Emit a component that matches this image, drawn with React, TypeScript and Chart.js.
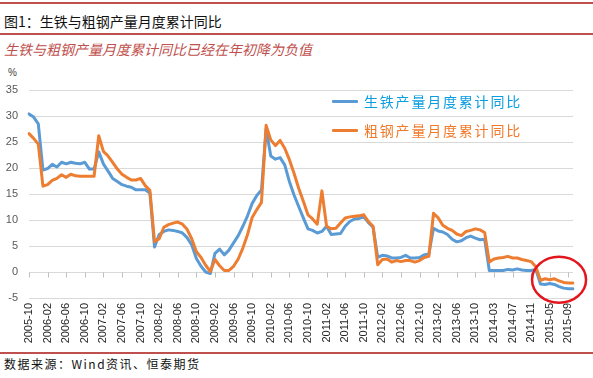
import React, { useEffect, useRef } from 'react';
import { Chart, registerables } from 'chart.js';

Chart.register(...registerables);

// ---- categories (monthly, Jan 2014 and Jan–Feb 2015 absent) ----
const cat2005 = ['2005-10', '2005-11', '2005-12'];
const cat2006 = ['2006-01', '2006-02', '2006-03', '2006-04', '2006-05', '2006-06', '2006-07', '2006-08', '2006-09', '2006-10', '2006-11', '2006-12'];
const cat2007 = ['2007-01', '2007-02', '2007-03', '2007-04', '2007-05', '2007-06', '2007-07', '2007-08', '2007-09', '2007-10', '2007-11', '2007-12'];
const cat2008 = ['2008-01', '2008-02', '2008-03', '2008-04', '2008-05', '2008-06', '2008-07', '2008-08', '2008-09', '2008-10', '2008-11', '2008-12'];
const cat2009 = ['2009-01', '2009-02', '2009-03', '2009-04', '2009-05', '2009-06', '2009-07', '2009-08', '2009-09', '2009-10', '2009-11', '2009-12'];
const cat2010 = ['2010-01', '2010-02', '2010-03', '2010-04', '2010-05', '2010-06', '2010-07', '2010-08', '2010-09', '2010-10', '2010-11', '2010-12'];
const cat2011 = ['2011-01', '2011-02', '2011-03', '2011-04', '2011-05', '2011-06', '2011-07', '2011-08', '2011-09', '2011-10', '2011-11', '2011-12'];
const cat2012 = ['2012-01', '2012-02', '2012-03', '2012-04', '2012-05', '2012-06', '2012-07', '2012-08', '2012-09', '2012-10', '2012-11', '2012-12'];
const cat2013 = ['2013-01', '2013-02', '2013-03', '2013-04', '2013-05', '2013-06', '2013-07', '2013-08', '2013-09', '2013-10', '2013-11', '2013-12'];
const cat2014 = ['2014-02', '2014-03', '2014-04', '2014-05', '2014-06', '2014-07', '2014-08', '2014-09', '2014-10', '2014-11', '2014-12'];
const cat2015 = ['2015-03', '2015-04', '2015-05', '2015-06', '2015-07', '2015-08', '2015-09', '2015-10'];

const categories = [
  ...cat2005, ...cat2006, ...cat2007, ...cat2008, ...cat2009, ...cat2010,
  ...cat2011, ...cat2012, ...cat2013, ...cat2014, ...cat2015,
];

// ---- series: cumulative YoY, % ----
const pigIronYoY = [
  30.4, 29.8, 28.5,
  19.6, 19.9, 20.7, 20.2, 21.1, 20.8, 21.1, 20.9, 20.8, 21.1, 19.8, 19.8,
  23.1, 20.8, 19.4, 18.0, 17.4, 16.8, 16.5, 16.3, 15.8, 15.8, 15.8, 15.2,
  4.8, 7.2, 7.8, 8.1, 8.0, 7.8, 7.5, 6.6, 5.2, 2.6, 1.1, 0.0,
  -0.3, 3.6, 4.4, 3.3, 4.2, 5.6, 7.0, 8.8, 10.8, 13.2, 14.7, 15.8,
  27.5, 22.3, 21.7, 22.0, 20.6, 17.4, 14.8, 12.6, 10.4, 8.3, 8.0, 7.5,
  7.8, 8.8, 7.2, 7.3, 7.4, 8.8, 9.7, 10.2, 10.3, 10.6, 9.5, 8.6,
  2.8, 3.2, 3.1, 2.7, 2.7, 2.8, 3.2, 2.7, 2.7, 2.8, 3.3, 3.5,
  8.4, 7.9, 7.7, 7.2, 6.3, 5.8, 6.0, 6.6, 6.9, 6.5, 6.2, 6.3,
  0.3, 0.3, 0.3, 0.3, 0.5, 0.4, 0.6, 0.4, 0.3, 0.3, 0.5,
  -2.3, -2.4, -2.2, -2.4, -2.8, -3.1, -3.2, -3.2,
];

const crudeSteelYoY = [
  26.6, 25.7, 24.6,
  16.5, 16.8, 17.6, 18.0, 18.7, 18.2, 18.8, 18.5, 18.4, 18.4, 18.4, 18.4,
  26.2, 23.2, 22.3, 21.1, 19.8, 18.8, 18.2, 17.7, 17.7, 18.0, 16.6, 15.7,
  5.8, 6.4, 8.6, 9.1, 9.4, 9.6, 9.2, 8.2, 6.4, 3.9, 2.8, 1.3,
  0.1, 2.4, 1.2, 0.3, 0.3, 1.1, 2.5, 4.6, 7.2, 10.5, 12.0, 13.4,
  28.2, 25.4, 24.3, 25.3, 23.8, 21.6, 19.0, 16.1, 13.6, 11.0, 10.2, 9.2,
  15.6, 8.8, 8.3, 8.4, 9.4, 10.4, 10.6, 10.7, 10.8, 11.0, 9.7, 8.8,
  1.4, 2.4, 2.5, 1.9, 2.2, 2.0, 2.2, 2.2, 1.9, 2.2, 2.8, 3.0,
  11.3, 10.4, 9.0, 8.4, 8.0, 7.3, 7.0, 7.8, 8.0, 8.3, 8.1, 7.6,
  1.9, 2.5, 2.7, 2.8, 3.0, 2.7, 2.7, 2.4, 2.2, 2.0, 1.0,
  -1.6, -1.3, -1.5, -1.3, -1.7, -2.0, -2.1, -2.1,
];

const seriesNames = ['生铁产量月度累计同比', '粗钢产量月度累计同比'];
const yTicks = [-5, 0, 5, 10, 15, 20, 25, 30, 35];
const labelStep = 4;
// highlighted region (red ellipse), anchored in data space
const highlightIndex = 114;
const highlightValue = -1.5;

const BLUE = '#5b9bd5';
const ORANGE = '#ed7d31';
const RED_RULE = '#c0504d';

const zeroTicksPlugin = {
  id: 'zeroTicks',
  beforeDatasetsDraw(chart: any) {
    const { ctx, scales } = chart;
    const xs = scales.x;
    const ys = scales.y;
    const y0 = Math.round(ys.getPixelForValue(0)) + 0.5;
    ctx.save();
    ctx.strokeStyle = '#bfbfbf';
    ctx.lineWidth = 1;
    for (let i = 0; i < categories.length; i += labelStep) {
      const px = Math.round(xs.getPixelForValue(i)) + 0.5;
      ctx.beginPath();
      ctx.moveTo(px, y0);
      ctx.lineTo(px, y0 + 5);
      ctx.stroke();
    }
    ctx.restore();
  },
};

const ellipsePlugin = {
  id: 'highlightEllipse',
  afterDraw(chart: any) {
    const { ctx, scales } = chart;
    const cx = scales.x.getPixelForValue(highlightIndex);
    const cy = scales.y.getPixelForValue(highlightValue);
    ctx.save();
    ctx.strokeStyle = '#e3161e';
    ctx.lineWidth = 2.5;
    ctx.beginPath();
    ctx.ellipse(cx, cy, 27, 23, 0, 0, Math.PI * 2);
    ctx.stroke();
    ctx.restore();
  },
};

export default function App() {
  const canvasRef = useRef<HTMLCanvasElement | null>(null);

  useEffect(() => {
    const canvas = canvasRef.current;
    if (!canvas) return;
    const chart = new Chart(canvas, {
      type: 'line',
      data: {
        labels: categories,
        datasets: [
          {
            label: seriesNames[0],
            data: pigIronYoY,
            borderColor: BLUE,
            backgroundColor: BLUE,
            borderWidth: 3,
            pointRadius: 0,
            tension: 0,
            borderJoinStyle: 'round',
            borderCapStyle: 'round',
            order: 1,
          },
          {
            label: seriesNames[1],
            data: crudeSteelYoY,
            borderColor: ORANGE,
            backgroundColor: ORANGE,
            borderWidth: 3,
            pointRadius: 0,
            tension: 0,
            borderJoinStyle: 'round',
            borderCapStyle: 'round',
            order: 0,
          },
        ],
      },
      options: {
        animation: false,
        responsive: false,
        maintainAspectRatio: false,
        layout: { padding: { left: 0, right: 20, top: 30, bottom: 0 } },
        plugins: {
          legend: { display: false },
          tooltip: { enabled: false },
        },
        scales: {
          x: {
            type: 'category',
            offset: false,
            grid: { display: false, drawTicks: false },
            border: { display: false },
            ticks: {
              autoSkip: false,
              minRotation: 90,
              maxRotation: 90,
              padding: 5,
              color: '#262626',
              font: { family: 'Liberation Sans', size: 11 },
              callback: (_v: any, i: number) => (i % labelStep === 0 ? categories[i] : ''),
            },
            afterFit: (s: any) => {
              s.height = 54;
            },
          },
          y: {
            min: -5,
            max: 35,
            afterBuildTicks: (s: any) => {
              s.ticks = yTicks.map((v) => ({ value: v }));
            },
            grid: { color: '#d9d9d9', lineWidth: 1, drawTicks: false },
            border: { display: false },
            ticks: {
              padding: 11,
              color: '#595959',
              font: { family: 'Liberation Sans', size: 11 },
            },
            afterFit: (s: any) => {
              s.width = 29;
            },
          },
        },
      },
      plugins: [zeroTicksPlugin, ellipsePlugin],
    } as any);
    return () => chart.destroy();
  }, []);

  const legendItem = (name: string, color: string, textColor: string, top: number) => (
    <div style={{ position: 'absolute', left: 332, top, height: 20, display: 'flex', alignItems: 'center' }}>
      <div style={{ width: 26, height: 3, background: color, borderRadius: 1 }} />
      <span
        style={{
          marginLeft: 6,
          fontFamily: '"Noto Sans CJK SC", sans-serif',
          fontSize: 14,
          letterSpacing: '1.8px',
          color: textColor,
          lineHeight: '20px',
          whiteSpace: 'nowrap',
        }}
      >
        {name}
      </span>
    </div>
  );

  return (
    <div
      style={{
        position: 'fixed',
        left: 0,
        top: 0,
        width: 593,
        height: 378,
        background: '#ffffff',
        overflow: 'hidden',
        fontFamily: '"Noto Sans CJK SC", sans-serif',
      }}
    >
      <div style={{ position: 'absolute', left: 0, top: 2, width: 593, height: 2, background: RED_RULE }} />
      <div
        style={{
          position: 'absolute',
          left: 4,
          top: 11,
          fontSize: 14,
          lineHeight: '20px',
          color: '#111111',
          whiteSpace: 'nowrap',
        }}
      >
        图1：生铁与粗钢产量月度累计同比
      </div>
      <div style={{ position: 'absolute', left: 0, top: 33, width: 593, height: 2, background: RED_RULE }} />
      <div
        style={{
          position: 'absolute',
          left: 4,
          top: 39,
          fontSize: 14,
          lineHeight: '20px',
          color: RED_RULE,
          fontStyle: 'italic',
          whiteSpace: 'nowrap',
        }}
      >
        生铁与粗钢产量月度累计同比已经在年初降为负值
      </div>
      <div
        style={{
          position: 'absolute',
          left: 8,
          top: 67,
          fontSize: 10,
          lineHeight: '12px',
          color: '#404040',
          fontFamily: '"Liberation Sans", sans-serif',
        }}
      >
        %
      </div>
      <canvas
        ref={canvasRef}
        width={593}
        height={292}
        style={{ position: 'absolute', left: 0, top: 60, width: 593, height: 292 }}
      />
      {legendItem(seriesNames[0], BLUE, '#0a9de0', 91)}
      {legendItem(seriesNames[1], ORANGE, '#f07a2a', 120)}
      <div style={{ position: 'absolute', left: 0, top: 352, width: 593, height: 2, background: RED_RULE }} />
      <div
        style={{
          position: 'absolute',
          left: 4,
          top: 356,
          fontSize: 12,
          lineHeight: '16px',
          letterSpacing: '1.5px',
          color: '#111111',
          whiteSpace: 'nowrap',
        }}
      >
        数据来源：Wind资讯、恒泰期货
      </div>
    </div>
  );
}
